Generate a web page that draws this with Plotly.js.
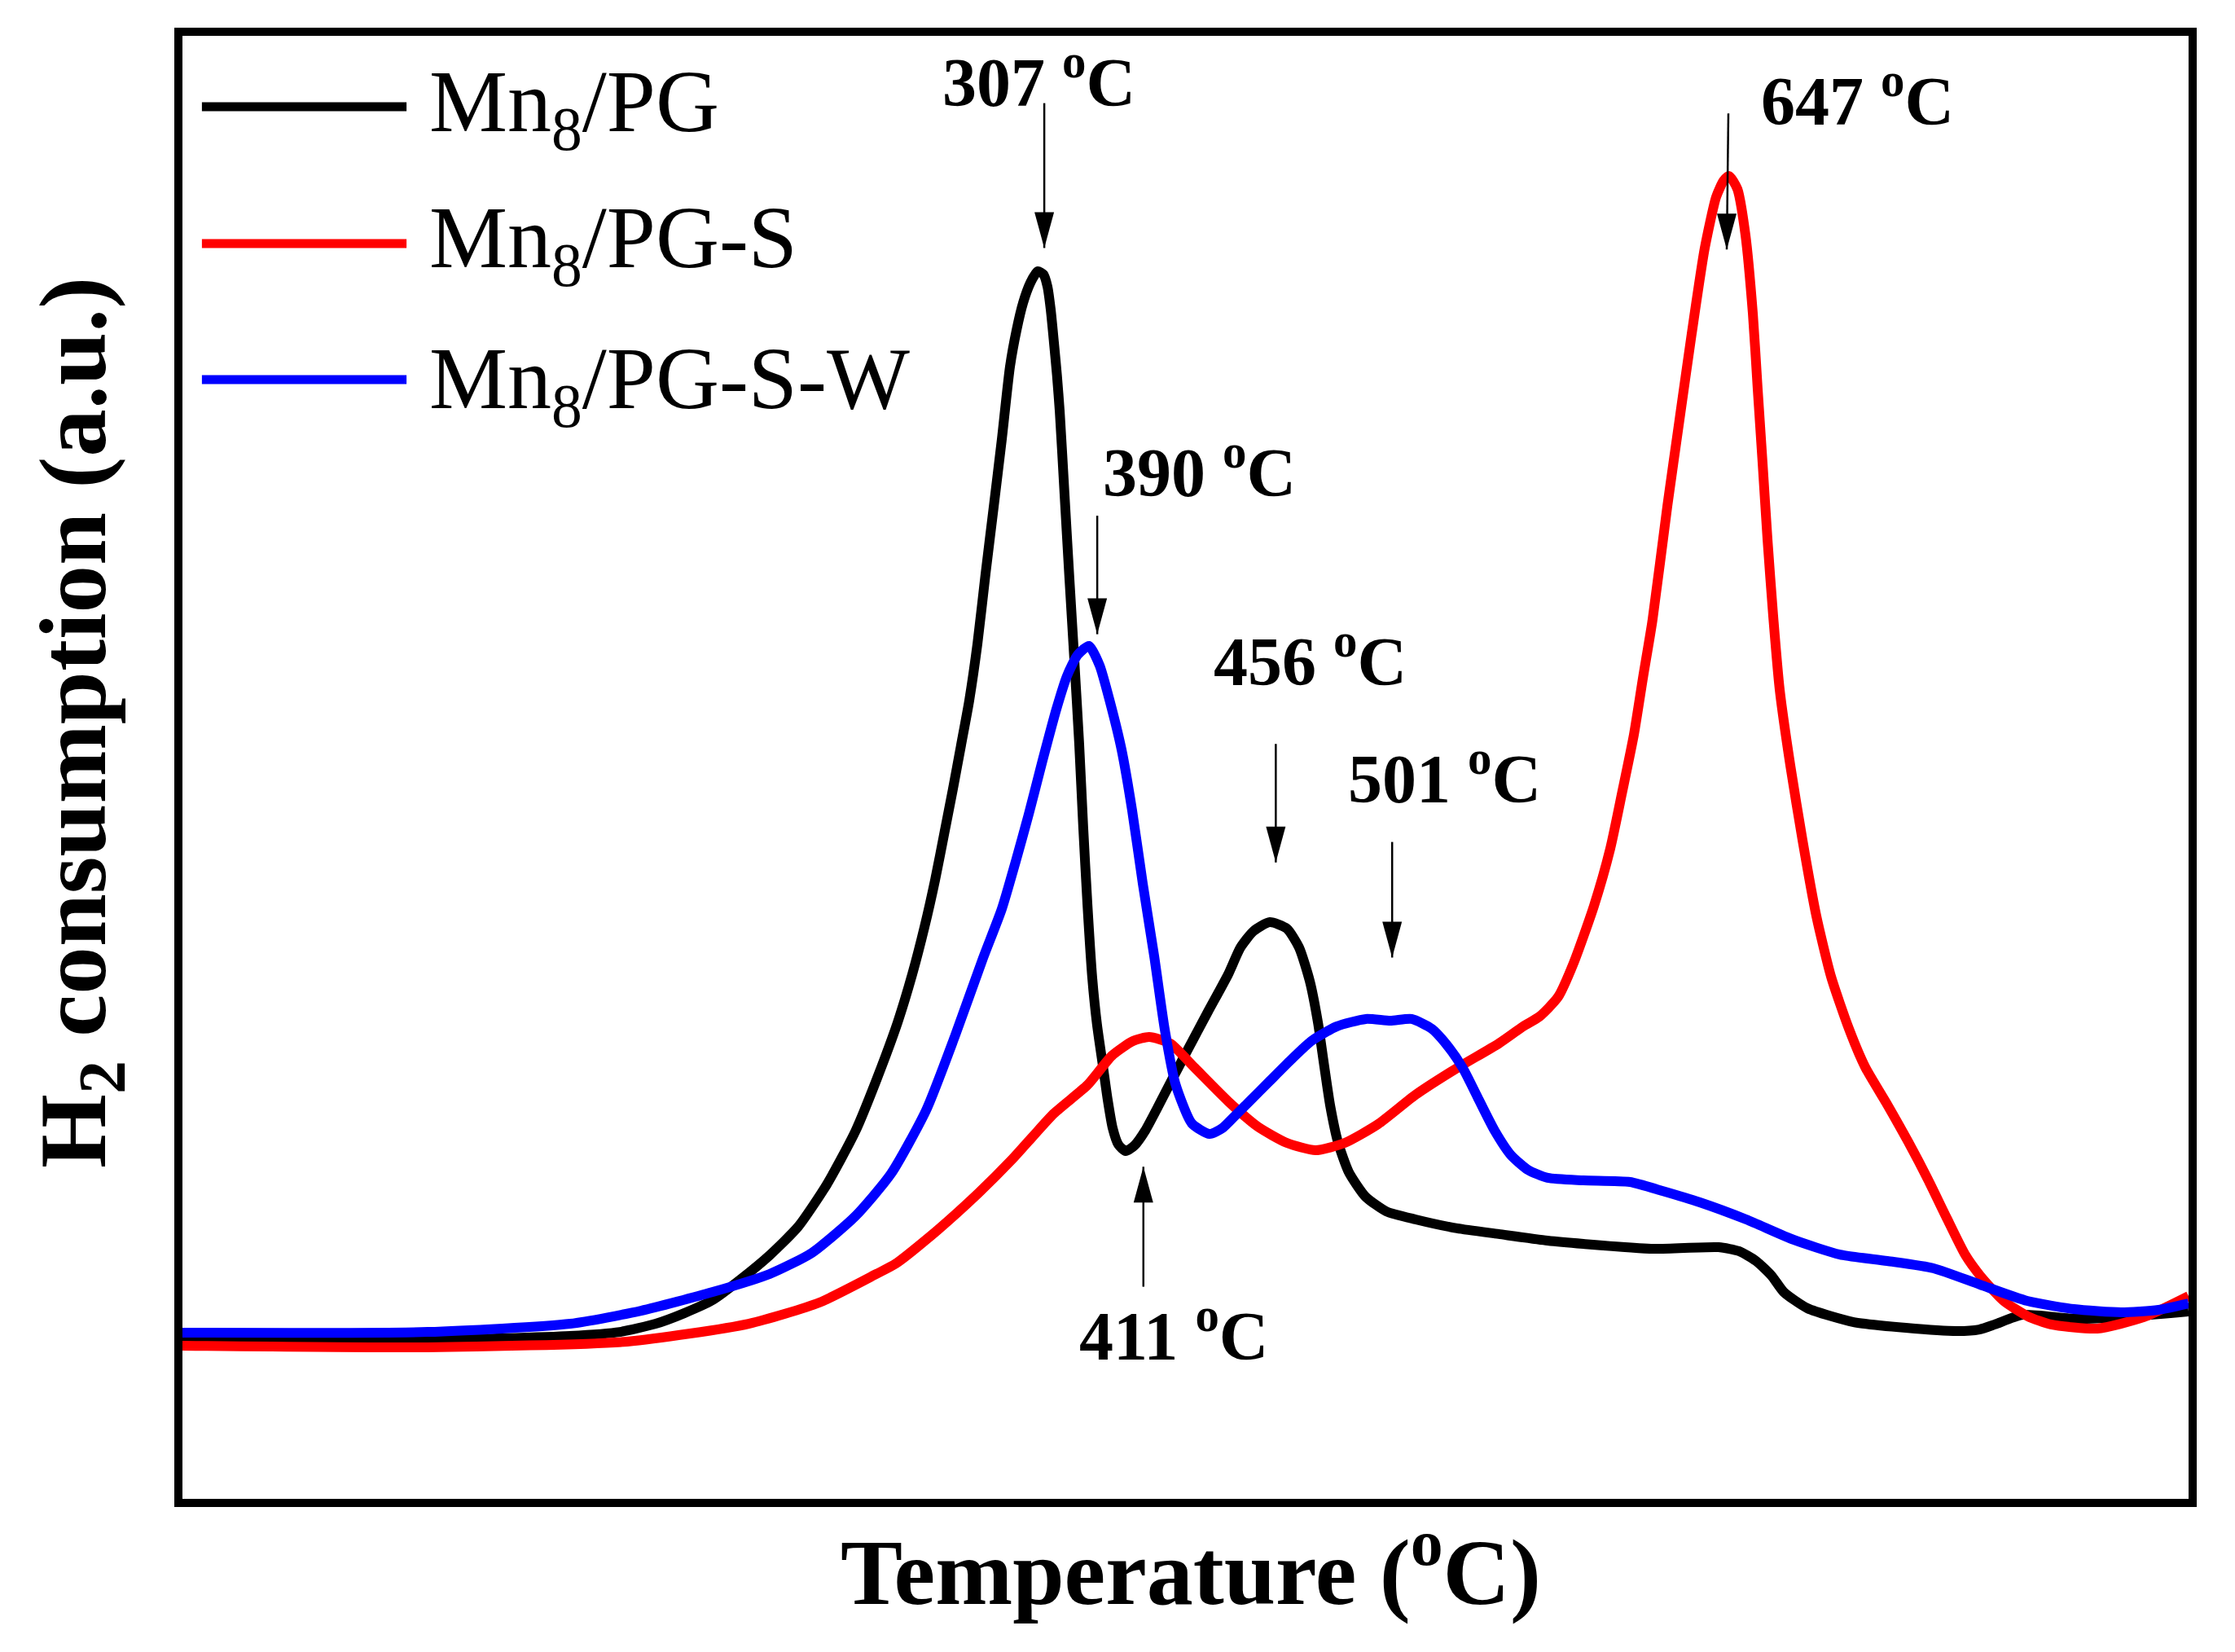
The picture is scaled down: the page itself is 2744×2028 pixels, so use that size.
<!DOCTYPE html>
<html>
<head>
<meta charset="utf-8">
<script src="https://cdn.plot.ly/plotly-3.0.1.min.js"></script>
<style>html,body{margin:0;padding:0;background:#fff;}</style>
</head>
<body>
<div id="chart" style="width:2744px;height:2028px;"></div>
<script>
// ---- Data (x: position along the temperature axis, 0-100; y: H2 signal, a.u.) ----
const seriesNames = ['Mn<sub>8</sub>/PG', 'Mn<sub>8</sub>/PG-S', 'Mn<sub>8</sub>/PG-S-W'];
const seriesColors = ['#000000', '#ff0000', '#0000ff'];

const blackX = [0,12.22,19.33,21.80,23.59,25.01,26.43,27.85,29.27,30.69,
  32.12,33.54,34.59,35.65,36.38,36.99,37.52,38.00,38.41,38.81,
  39.22,39.63,40.03,40.44,40.84,41.25,41.58,41.90,42.27,42.63,
  42.92,43.12,43.28,43.44,43.59,43.73,43.97,44.21,44.46,44.70,
  44.90,45.11,45.35,45.59,45.88,46.12,46.37,46.65,47.02,47.46,
  47.99,48.60,49.25,50.06,51.12,52.13,52.74,53.39,54.20,55.05,
  55.66,56.19,56.60,56.90,57.21,57.61,58.14,58.97,60.01,61.47,
  63.54,65.61,68.05,69.83,73.33,76.57,77.59,78.44,79.21,79.82,
  81.00,83.31,85.91,88.47,89.57,90.34,91.72,94.28,96.63,100];
const blackY = [10.86,10.86,11.14,11.41,11.97,12.69,13.59,15.03,16.65,18.60,
  21.49,25.11,28.62,32.57,35.86,39.09,42.32,45.66,48.55,51.50,
  54.57,58.46,63.20,67.82,72.38,77.39,79.90,81.74,83.13,83.91,
  83.69,82.85,81.29,79.06,76.84,74.33,68.65,62.97,57.29,51.61,
  45.94,40.65,35.63,32.40,29.62,27.28,25.33,24.22,23.77,24.16,
  25.17,26.73,28.45,30.57,33.30,35.86,37.69,38.81,39.42,38.98,
  37.69,35.41,32.57,29.73,26.89,24.33,22.33,20.66,19.65,19.10,
  18.49,18.10,17.65,17.43,17.09,17.20,16.93,16.26,15.26,14.14,
  13.03,12.08,11.69,11.47,11.58,11.92,12.58,12.31,12.42,12.81];

const redX = [0,12.22,22.17,28.22,31.75,34.59,35.57,37.64,39.71,41.37,
  43.44,45.11,46.33,47.38,48.19,49.25,50.47,52.13,53.59,55.05,
  56.48,57.94,59.60,61.47,63.54,65.61,66.83,67.64,68.57,69.35,
  70.36,71.17,71.77,72.35,72.81,73.28,74.02,74.62,75.23,75.88,76.45,76.82,
  77.10,77.51,77.91,78.28,78.52,78.77,79.01,79.29,79.62,80.15,
  80.76,81.45,82.18,83.07,83.88,84.98,86.03,87.01,87.94,88.88,
  89.61,90.78,92.00,93.14,95.45,97.77,100];
const redY = [10.47,10.36,10.75,11.97,13.42,15.37,16.09,18.37,20.94,23.22,
  26.34,28.28,30.29,31.29,31.57,31.12,29.45,27.17,25.45,24.33,
  23.83,24.33,25.61,27.62,29.45,31.12,32.29,32.96,34.30,36.64,
  40.53,44.43,48.33,52.23,56.18,60.08,67.87,73.72,79.62,85.47,88.98,90.09,
  90.42,89.53,86.41,81.01,75.89,70.71,65.59,60.41,55.29,50.11,
  44.99,39.81,35.69,32.13,29.51,26.95,24.39,21.83,19.21,16.65,
  15.26,13.53,12.47,11.92,11.64,12.42,13.86];

const blueX = [0,12.22,19.33,22.86,26.43,29.27,31.38,33.54,35.32,37.07,38.49,39.91,
  40.84,41.53,42.18,42.88,43.57,44.09,44.62,45.19,
  45.72,46.24,46.81,47.34,47.87,48.44,48.96,49.49,50.31,51.20,
  51.83,52.46,53.19,54.20,55.26,56.27,57.53,58.99,60.21,61.27,
  62.28,63.13,63.82,64.56,65.41,66.22,67.07,68.05,69.83,72.15,
  73.77,75.64,77.95,80.31,82.62,84.98,87.29,89.61,91.96,94.28,
  96.63,98.50,100];
const blueY = [11.36,11.41,11.97,12.86,14.14,15.37,16.82,19.32,22.22,26.56,31.57,36.97,
  40.31,43.54,46.77,50.50,54.01,56.24,57.68,58.30,
  56.96,54.45,51.22,47.05,42.04,37.08,32.13,28.40,25.67,24.94,
  25.33,26.17,27.17,28.56,30.01,31.29,32.29,32.80,32.68,32.80,
  32.13,30.85,29.45,27.45,25.17,23.50,22.49,21.94,21.77,21.66,
  21.05,20.27,19.10,17.71,16.70,16.26,15.76,14.64,13.53,12.97,
  12.75,12.92,13.36];

const peakLabels = ['307 <sup>o</sup>C', '390 <sup>o</sup>C', '456 <sup>o</sup>C', '501 <sup>o</sup>C', '411 <sup>o</sup>C', '647 <sup>o</sup>C'];
const xTitle = 'Temperature (<sup>o</sup>C)';
const yTitle = 'H<sub>2</sub> consumption (a.u.)';

// ---- Layout / positions ----
const labelPos = [[37.8,97.15],[45.8,70.45],[51.3,57.55],[58.0,49.55],[44.6,11.45],[78.6,95.85]];
const arrowPos = [
  {x0:42.96, x1:42.96, y0:95.4, y1:85.5},
  {x0:45.6,  x1:45.6,  y0:67.2, y1:59.1},
  {x0:54.5,  x1:54.5,  y0:51.6, y1:43.5},
  {x0:60.3,  x1:60.3,  y0:44.9, y1:37.0},
  {x0:47.9,  x1:47.9,  y0:14.5, y1:22.7},
  {x0:77.06, x1:76.98, y0:94.7, y1:85.4}
];
const legendLineY = [0.9516, 0.8580, 0.7650];
const legendTextY = [0.9507, 0.8575, 0.7614];

const FONT = 'Liberation Serif, Times New Roman, serif';

const xs = [blackX, redX, blueX];
const ys = [blackY, redY, blueY];
const traces = xs.map((x, i) => ({
  x: x, y: ys[i], type: 'scatter', mode: 'lines', name: seriesNames[i],
  line: {color: seriesColors[i], width: 12, shape: 'spline', smoothing: 0.6},
  hoverinfo: 'skip'
}));

const shapes = [];
const annotations = [];

arrowPos.forEach(a => {
  shapes.push({type:'line', xref:'x', yref:'y', x0:a.x0, x1:a.x1, y0:a.y0, y1:a.y1,
    line:{color:'#000', width:2.5}});
  const up = a.y1 > a.y0;
  const p = up ? 'M0,0 L-12,-44 L12,-44 Z' : 'M0,0 L-12,44 L12,44 Z';
  shapes.push({type:'path', xref:'x', yref:'y', xsizemode:'pixel', ysizemode:'pixel',
    xanchor:a.x1, yanchor:a.y1, path:p, fillcolor:'#000', line:{color:'#000', width:0}});
});

peakLabels.forEach((t, i) => {
  annotations.push({text:t, x:labelPos[i][0], y:labelPos[i][1], xref:'x', yref:'y',
    xanchor:'left', yanchor:'middle', showarrow:false,
    font:{family:FONT, size:84, color:'#000', weight:'bold'}});
});

seriesNames.forEach((n, i) => {
  shapes.push({type:'line', xref:'paper', yref:'paper', x0:0.0097, x1:0.1117,
    y0:legendLineY[i], y1:legendLineY[i], line:{color:seriesColors[i], width:11}});
  annotations.push({text:n, x:0.1222, y:legendTextY[i], xref:'paper', yref:'paper',
    xanchor:'left', yanchor:'middle', showarrow:false,
    font:{family:FONT, size:108, color:'#000'}});
});

annotations.push({text:yTitle, x:-0.0512, y:0.5306, xref:'paper', yref:'paper', textangle:-90,
  xanchor:'center', yanchor:'middle', showarrow:false,
  font:{family:FONT, size:117, color:'#000', weight:'bold'}});
annotations.push({text:xTitle, x:0.5027, y:-0.0457, xref:'paper', yref:'paper',
  xanchor:'center', yanchor:'middle', showarrow:false,
  font:{family:FONT, size:114, color:'#000', weight:'bold'}});

const axisCommon = {showline:true, mirror:true, linewidth:10, linecolor:'#000',
  showgrid:false, zeroline:false, ticks:'', showticklabels:false, fixedrange:true};

const layout = {
  width:2744, height:2028,
  margin:{l:224, r:57, t:44, b:188},
  paper_bgcolor:'#fff', plot_bgcolor:'#fff',
  showlegend:false,
  xaxis:Object.assign({range:[0,100]}, axisCommon),
  yaxis:Object.assign({range:[0,100]}, axisCommon),
  shapes:shapes, annotations:annotations,
  font:{family:FONT}
};

Plotly.newPlot('chart', traces, layout, {staticPlot:true, displayModeBar:false});
</script>
</body>
</html>
